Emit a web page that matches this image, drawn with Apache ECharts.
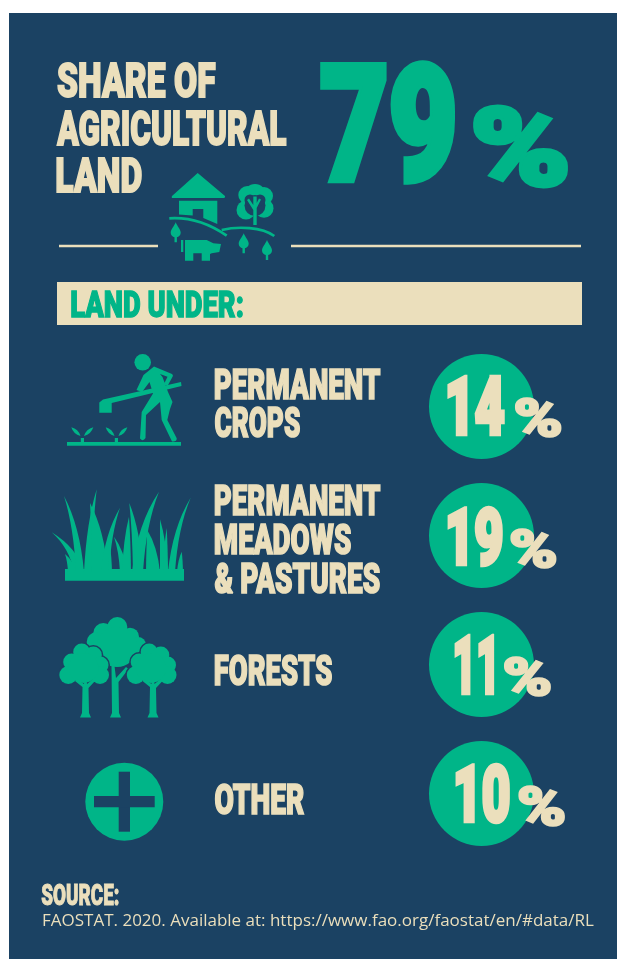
<!DOCTYPE html>
<html>
<head>
<meta charset="utf-8">
<title>Share of agricultural land</title>
<style>
  html, body { margin: 0; padding: 0; background: #fff; }
  #chart { width: 617px; height: 959px; }
</style>
<script src="https://cdn.jsdelivr.net/npm/echarts@6/dist/echarts.min.js"></script>
</head>
<body>
<div id="chart"></div>
<script>
// values
const headlineLines = ['SHARE OF', 'AGRICULTURAL', 'LAND']
const headlineValue = [79]
const categories = ['PERMANENT\nCROPS', 'PERMANENT\nMEADOWS\n& PASTURES', 'FORESTS', 'OTHER']
const shares = [14, 19, 11, 10]
const subtitle = 'LAND UNDER:'
const sourceTitle = 'SOURCE:'
const sourceText = 'FAOSTAT. 2020. Available at: https://www.fao.org/faostat/en/#data/RL'

const NAVY = '#1b4263'
const GREEN = '#00b588'
const CREAM = '#ebdfbc'
const DISPLAY = 'Roboto, "Liberation Sans", sans-serif'

// ink width of each row line, the reference face is much narrower than anything installed
const lineWidths = { PERMANENT: 166, CROPS: 86, MEADOWS: 137, '& PASTURES': 166, FORESTS: 118, OTHER: 90 }
const lineShift = [-3.5, 3.5, 5, 5.5]
// ink box of number and % sign per row, relative to the circle centre
const numberBox = [[-34.5, 23.5, -32.5, 29.5], [-34.5, 21.5, -30.5, 32], [-27.2, 12.8, -30.5, 31], [-26.5, 28.5, -31.5, 31]]
const percentBox = [[33, 81, -9.5, 31.5], [28.5, 76, -7.5, 33.5], [22, 70.5, -8, 33], [36.5, 84.5, -8.5, 33.5]]

const measure = document.createElement('canvas').getContext('2d')

// text squeezed so that its ink fills the box x0..x1, y0..y1
function fit(str, x0, x1, y0, y1, size, lw, fill) {
  const font = '900 ' + size + 'px ' + DISPLAY
  measure.font = font
  measure.textAlign = 'left'
  measure.textBaseline = 'middle'
  const m = measure.measureText(str)
  const sx = (x1 - x0) / (m.actualBoundingBoxLeft + m.actualBoundingBoxRight + lw)
  const sy = (y1 - y0) / (m.actualBoundingBoxAscent + m.actualBoundingBoxDescent + lw)
  return {
    type: 'text',
    silent: true,
    x: x0 + (m.actualBoundingBoxLeft + lw / 2) * sx,
    y: y0 + (m.actualBoundingBoxAscent + lw / 2) * sy,
    scaleX: sx,
    scaleY: sy,
    style: {
      text: str,
      x: 0,
      y: 0,
      font: font,
      fill: fill,
      stroke: fill,
      lineWidth: lw,
      align: 'left',
      textAlign: 'left',
      verticalAlign: 'middle',
      textVerticalAlign: 'middle'
    }
  }
}

// the path is scaled to the whole page, so the two dots keep it 1:1
const PAGE = 'M0 0L0 0M617 959L617 959'
function path(d, style) {
  return {
    type: 'path',
    silent: true,
    shape: { pathData: PAGE + d, x: 0, y: 0, width: 617, height: 959, layout: 'cover' },
    style: Object.assign({ fill: GREEN }, style)
  }
}
function circle(cx, cy, r, fill, stroke) {
  return {
    type: 'circle',
    silent: true,
    shape: { cx: cx, cy: cy, r: r },
    style: { fill: fill || GREEN, stroke: stroke || null, lineWidth: stroke ? 3 : 0 }
  }
}
function rect(x, y, w, h, fill) {
  return { type: 'rect', silent: true, shape: { x: x, y: y, width: w, height: h }, style: { fill: fill } }
}
function smallTree(x, y) {
  return 'M' + x + ' ' + y + 'C' + (x + 1.5) + ' ' + (y + 4) + ' ' + (x + 5) + ' ' + (y + 7) + ' ' + (x + 5) + ' ' + (y + 10.5) +
    'C' + (x + 5) + ' ' + (y + 13) + ' ' + (x + 3) + ' ' + (y + 14.5) + ' ' + (x + 1.2) + ' ' + (y + 15) +
    'L' + (x + 1.2) + ' ' + (y + 20) + 'L' + (x - 1.2) + ' ' + (y + 20) + 'L' + (x - 1.2) + ' ' + (y + 15) +
    'C' + (x - 3) + ' ' + (y + 14.5) + ' ' + (x - 5) + ' ' + (y + 13) + ' ' + (x - 5) + ' ' + (y + 10.5) +
    'C' + (x - 5) + ' ' + (y + 7) + ' ' + (x - 1.5) + ' ' + (y + 4) + ' ' + x + ' ' + y + 'Z'
}
function leaf(x1, y1, x2, y2) {
  const nx = (y2 - y1) * 0.28
  const ny = (x1 - x2) * 0.28
  const mx = (x1 + x2) / 2
  const my = (y1 + y2) / 2
  return 'M' + x1 + ' ' + y1 + 'Q' + (mx + nx) + ' ' + (my + ny) + ' ' + x2 + ' ' + y2 +
    'Q' + (mx - nx) + ' ' + (my - ny) + ' ' + x1 + ' ' + y1 + 'Z'
}
function blade(tipX, tipY, b1, b2) {
  const h = 572 - tipY
  const cy = tipY + h * 0.4
  const c1 = b1 + (tipX - b1) * 0.2
  const c2 = b2 + (tipX - b2) * 0.2
  return 'M' + b1 + ' 572Q' + c1 + ' ' + cy + ' ' + tipX + ' ' + tipY + 'Q' + c2 + ' ' + cy + ' ' + b2 + ' 572Z'
}
function treeBlobs(dx, fill, stroke) {
  return [
    [81.7, 652, 8.5], [93.3, 655, 8.5], [71.7, 662, 8.5], [100, 665, 8.5],
    [68.3, 675, 9], [100, 675, 9], [83.5, 668, 15]
  ].map(c => circle(c[0] + dx, c[1], c[2], fill, stroke))
}
function trunk(dx) {
  return path(
    'M' + (82.5 + dx) + ' 687L' + (75 + dx) + ' 681L' + (77 + dx) + ' 679L' + (84 + dx) + ' 684L' + (84.5 + dx) + ' 679L' + (86.5 + dx) + ' 679L' + (87 + dx) + ' 684L' + (93 + dx) + ' 679L' + (95 + dx) + ' 681L' + (88.5 + dx) + ' 688' +
    'L' + (89 + dx) + ' 713L' + (91 + dx) + ' 717.5L' + (80 + dx) + ' 717.5L' + (82 + dx) + ' 713Z'
  )
}

function renderDecor() {
  const children = [
    rect(9, 13, 608, 946, NAVY),

    // header
    fit(headlineLines[0], 57, 216, 62, 98, 50, 2, CREAM),
    fit(headlineLines[1], 56, 287, 110, 146, 50, 2, CREAM),
    fit(headlineLines[2], 56, 142, 157, 193, 50, 2, CREAM),
    fit(String(headlineValue[0]), 320, 455, 60, 185, 170, 8, GREEN),
    fit('%', 472, 568, 105, 188, 110, 5, GREEN),
    rect(59, 244.8, 99, 2.4, CREAM),
    rect(291, 244.8, 290, 2.4, CREAM),

    // farm icon
    path('M197.7 173L225 196Q225.5 198 223 198L173 198Q171 198 172 196Z'),
    path('M179 200.7L217.3 200.7L217.3 224L203.3 218L203.3 209L192.7 209L192.7 215.5L179 214.5Z'),
    circle(255, 195, 11), circle(246, 210, 9.5), circle(264, 208.3, 9.5), circle(247.3, 195, 9), circle(264, 196, 9),
    circle(255, 205.5, 10.5, NAVY), circle(250, 200, 5.5, NAVY), circle(260, 200, 5.5, NAVY),
    path('M253.3 196.5L256.7 196.5L256.7 203L259 198.5L261 199.5L256.7 208L256.7 225L253.3 225L253.3 210L247 200L249 198.5L253.3 205Z'),
    path('M169.3 218.3C190 217 210 224 226.7 235.7', { fill: 'none', stroke: GREEN, lineWidth: 2.7 }),
    path('M221.7 230C238 226 262 227 274.3 236', { fill: 'none', stroke: GREEN, lineWidth: 2.7 }),
    path(smallTree(175.7, 222.3)),
    path(smallTree(243.7, 233.3)),
    path(smallTree(267, 240)),
    path('M185 240L206.7 240L213.3 243.3L221 244L219.3 252L211.7 253.3L210 254L210 260.7L201.7 260.7L201.7 253.3L193.3 253.3L193.3 260.7L185 260.7Z'),
    rect(181, 240, 2.3, 12, GREEN),

    // subtitle bar
    rect(57, 282, 525, 43, CREAM),
    fit(subtitle, 71, 243, 289.5, 318, 40, 1.5, GREEN),

    // farmer
    circle(142.7, 362.3, 8.3),
    rect(67, 442, 114, 3.7, GREEN),
    rect(80.8, 438, 3.2, 4, GREEN),
    rect(114.8, 438, 3.2, 4, GREEN),
    path(leaf(80.5, 436, 71.3, 427.3)),
    path(leaf(84, 436, 93.3, 427.3)),
    path(leaf(114.5, 436, 105.7, 427.3)),
    path(leaf(118.5, 436, 127.3, 427.3)),
    path('M181 382L181.5 386L111.7 403L111.7 412.7L99.3 412.7L99.3 402.5L103 399.5Z'),
    path('M154 366.5L172 374Q173.5 375 172.7 376.5L167.5 386L164 384L167.5 376.7L160 374L162.5 377L168 392L172.5 402L170 409L167.3 420L176.7 438.3Q177 442 172 441.5L161.7 420L160 402L146 415L145.5 438Q143 442 140 438.5L141.7 412L153 393.5L149.5 382L142 392L136.5 390L143.5 375Z'),

    // grass
    rect(65, 569, 119, 11.7, GREEN),
    path(blade(51.7, 532.3, 74, 84)),
    path(blade(64, 496, 76, 84)),
    path(blade(65, 554, 68, 76)),
    path(blade(96.7, 489.3, 84, 92)),
    path(blade(90, 503, 92, 108)),
    path(blade(120, 507.7, 101, 109)),
    path(blade(110, 546, 108, 112)),
    path(blade(114, 536.7, 120, 127)),
    path(blade(129.3, 503, 133, 143)),
    path(blade(129, 516.7, 122, 131)),
    path(blade(159, 491.7, 132, 143)),
    path(blade(147.3, 530, 146, 160)),
    path(blade(160, 519.3, 160, 168)),
    path(blade(166.7, 528, 163, 168)),
    path(blade(190.7, 497.7, 168, 175)),
    path(blade(181.7, 551.7, 177, 183)),

    // trees
    circle(117.3, 627, 10), circle(103.3, 633, 10), circle(130, 636.7, 9), circle(96.7, 642, 10),
    circle(138, 645, 8), circle(117, 647, 20),
    path('M110 717.5L112 713L111.5 666L114.5 666L116 678L126 667L128.5 669L118.5 682L119 713L121 717.5Z'),
    ...treeBlobs(0, NAVY, NAVY),
    ...treeBlobs(67.5, NAVY, NAVY),
    ...treeBlobs(0),
    ...treeBlobs(67.5),
    trunk(0),
    trunk(67.5),

    // other
    circle(124.3, 801.7, 39),
    rect(118.7, 771.7, 11.3, 60, NAVY),
    rect(94, 796, 60.7, 11.3, NAVY),

    // source
    fit(sourceTitle, 41, 119, 883, 905, 30, 1, CREAM),
    {
      type: 'text',
      silent: true,
      style: {
        text: sourceText,
        x: 42,
        y: 921,
        font: '17px "Open Sans", sans-serif',
        fill: CREAM,
        align: 'left',
        textAlign: 'left',
        verticalAlign: 'middle',
        textVerticalAlign: 'middle'
      }
    }
  ]
  return { type: 'group', children: children }
}

function renderRow(params, api) {
  const i = params.dataIndex
  const pos = api.coord([0, i])
  const cx = pos[0]
  const cy = pos[1]
  const lines = categories[i].split('\n')
  const num = numberBox[i]
  const pct = percentBox[i]
  const children = [{
    type: 'circle',
    silent: true,
    shape: { cx: cx, cy: cy, r: 52.5 },
    style: { fill: GREEN }
  }]
  lines.forEach((line, n) => {
    const mid = cy + lineShift[i] + (n - (lines.length - 1) / 2) * 38.7
    const left = cx - 267
    children.push(fit(line, left, left + lineWidths[line], mid - 16, mid + 16, 44, 1.8, CREAM))
  })
  children.push(fit(String(api.value(2)), cx + num[0], cx + num[1], cy + num[2], cy + num[3], 85, 5, CREAM))
  children.push(fit('%', cx + pct[0], cx + pct[1], cy + pct[2], cy + pct[3], 56, 2.5, CREAM))
  return { type: 'group', children: children }
}

const chart = echarts.init(document.getElementById('chart'))
chart.setOption({
  animation: false,
  backgroundColor: '#fff',
  tooltip: { show: false },
  grid: { left: 429, top: 342, width: 105, height: 516 },
  xAxis: { type: 'category', data: ['share'], show: false },
  yAxis: { type: 'category', data: categories, inverse: true, show: false },
  series: [
    {
      type: 'custom',
      coordinateSystem: 'none',
      silent: true,
      z: 1,
      data: [0],
      renderItem: renderDecor
    },
    {
      type: 'custom',
      coordinateSystem: 'cartesian2d',
      silent: true,
      z: 2,
      clip: false,
      encode: { x: 0, y: 1 },
      data: shares.map((v, i) => [0, i, v]),
      renderItem: renderRow
    }
  ]
})
</script>
</body>
</html>
